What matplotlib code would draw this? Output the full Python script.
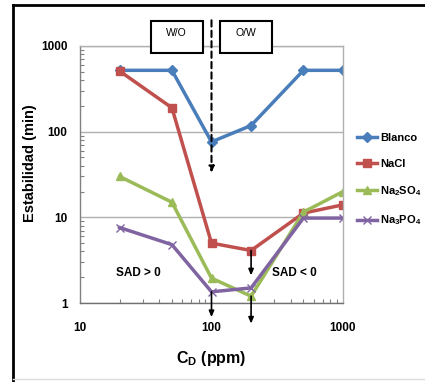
import matplotlib
matplotlib.use('Agg')
import matplotlib.pyplot as plt
from matplotlib.patches import Rectangle
from matplotlib.lines import Line2D
from matplotlib.ticker import LogLocator, NullFormatter, FixedLocator, FixedFormatter

plt.rcParams['font.family'] = ['Liberation Sans', 'DejaVu Sans']
plt.rcParams['font.weight'] = 'bold'
plt.rcParams['axes.labelweight'] = 'bold'
plt.rcParams['mathtext.fontset'] = 'custom'
plt.rcParams['mathtext.rm'] = 'Liberation Sans:bold'
plt.rcParams['mathtext.it'] = 'Liberation Sans:bold'
plt.rcParams['mathtext.bf'] = 'Liberation Sans:bold'

# data
conc = [20, 50, 100, 200, 500, 1000]
blanco = [520, 520, 76, 118, 520, 520]
nacl = [510, 190, 5.0, 4.1, 11.2, 14]
na2so4 = [30, 15, 1.95, 1.2, 11.5, 20]
na3po4 = [7.6, 4.8, 1.35, 1.5, 9.8, 9.8]

series_names = ['Blanco', 'NaCl', r'Na$_\mathrm{2}$SO$_\mathrm{4}$', r'Na$_\mathrm{3}$PO$_\mathrm{4}$']
colors = ['#4A7EBB', '#C0504D', '#9BBB59', '#8064A2']
markers = ['D', 's', '^', 'x']

x_ticks = [10, 100, 1000]
y_ticks = [1, 10, 100, 1000]

fig = plt.figure(figsize=(4.25, 3.82), dpi=100)
ax = fig.add_axes([80 / 425, 1 - 303 / 382, 263 / 425, 257 / 382])

for vals, name, c, m in zip([blanco, nacl, na2so4, na3po4], series_names, colors, markers):
    ms = 5 if m == 'D' else 6
    ax.plot(conc, vals, color=c, lw=2.5, marker=m, ms=ms, mew=1, label=name)

ax.set_xscale('log')
ax.set_yscale('log')
ax.set_xlim(10, 1000)
ax.set_ylim(1, 1000)

ax.xaxis.set_major_locator(FixedLocator(x_ticks))
ax.xaxis.set_major_formatter(FixedFormatter([str(v) for v in x_ticks]))
ax.yaxis.set_major_locator(FixedLocator(y_ticks))
ax.yaxis.set_major_formatter(FixedFormatter([str(v) for v in y_ticks]))
for axis in (ax.xaxis, ax.yaxis):
    axis.set_minor_locator(LogLocator(base=10, subs=range(2, 10)))
    axis.set_minor_formatter(NullFormatter())

ax.tick_params(which='major', length=0, labelsize=8.5)
ax.tick_params(axis='x', which='major', pad=14)
ax.tick_params(axis='y', which='major', pad=9)
ax.tick_params(which='minor', direction='in', length=3, width=0.8, color='#808080')

ax.grid(axis='y', which='major', color='#B0B0B0', lw=1)
for s in ax.spines.values():
    s.set_color('#B0B0B0')
    s.set_linewidth(1)
ax.spines['bottom'].set_color('#707070')
ax.spines['left'].set_color('#808080')

ax.set_ylabel('Estabilidad (min)', fontsize=10.5, fontweight='bold')
ax.yaxis.set_label_coords(-0.163, 0.545)
ax.set_xlabel(r'C$_\mathrm{D}$ (ppm)', fontsize=11.5, fontweight='bold')
ax.xaxis.set_label_coords(0.5, -0.18)

# region labels
ax.text(28, 2.25, 'SAD > 0', ha='center', va='center', fontsize=8.5)
ax.text(430, 2.25, 'SAD < 0', ha='center', va='center', fontsize=8.5)

# W/O and O/W boxes
for x0, x1, lab in [(0.269, 0.466, 'W/O'), (0.532, 0.729, 'O/W')]:
    ax.add_patch(Rectangle((x0, 0.972), x1 - x0, 0.126, transform=ax.transAxes,
                           fill=True, facecolor='white', edgecolor='black', lw=1.5,
                           clip_on=False, zorder=5))
    ax.text((x0 + x1) / 2, 1.05, lab, transform=ax.transAxes, ha='center',
            va='center', fontsize=7.5, fontweight='normal', zorder=6)

# arrows
head = '-|>,head_length=0.35,head_width=0.15'
ax.annotate('', xy=(100, 33), xytext=(100, 1.10), xycoords='data',
            textcoords=('data', 'axes fraction'), annotation_clip=False,
            arrowprops=dict(arrowstyle=head, color='black', lw=1.5,
                            linestyle=(0, (3, 2)), shrinkA=0, shrinkB=0))
ax.annotate('', xy=(200, 2.1), xytext=(200, 4.1), annotation_clip=False,
            arrowprops=dict(arrowstyle=head, color='black', lw=1.2, shrinkA=0, shrinkB=0))
ax.annotate('', xy=(100, -0.055), xytext=(100, 1.35), xycoords=('data', 'axes fraction'),
            textcoords='data', annotation_clip=False,
            arrowprops=dict(arrowstyle=head, color='black', lw=1.2, shrinkA=0, shrinkB=0))
ax.annotate('', xy=(200, -0.08), xytext=(200, 1.2), xycoords=('data', 'axes fraction'),
            textcoords='data', annotation_clip=False,
            arrowprops=dict(arrowstyle=head, color='black', lw=1.2, shrinkA=0, shrinkB=0))

fig.legend(loc='upper left', bbox_to_anchor=(357 / 425, 1 - 133 / 382), frameon=False,
           fontsize=8, handlelength=1.8, handletextpad=0.3, labelspacing=1.4,
           borderpad=0, borderaxespad=0, numpoints=1)

# outer frame
fig.add_artist(Line2D([13 / 425, 13 / 425], [0.0, 1 - 5 / 382], color='black', lw=2))
fig.add_artist(Line2D([13 / 425, 1.0], [1 - 5 / 382, 1 - 5 / 382], color='black', lw=2))
fig.add_artist(Line2D([13 / 425, 1.0], [1 - 379 / 382, 1 - 379 / 382], color='#DDDDDD', lw=1))

fig.savefig('out.png', dpi=100)
